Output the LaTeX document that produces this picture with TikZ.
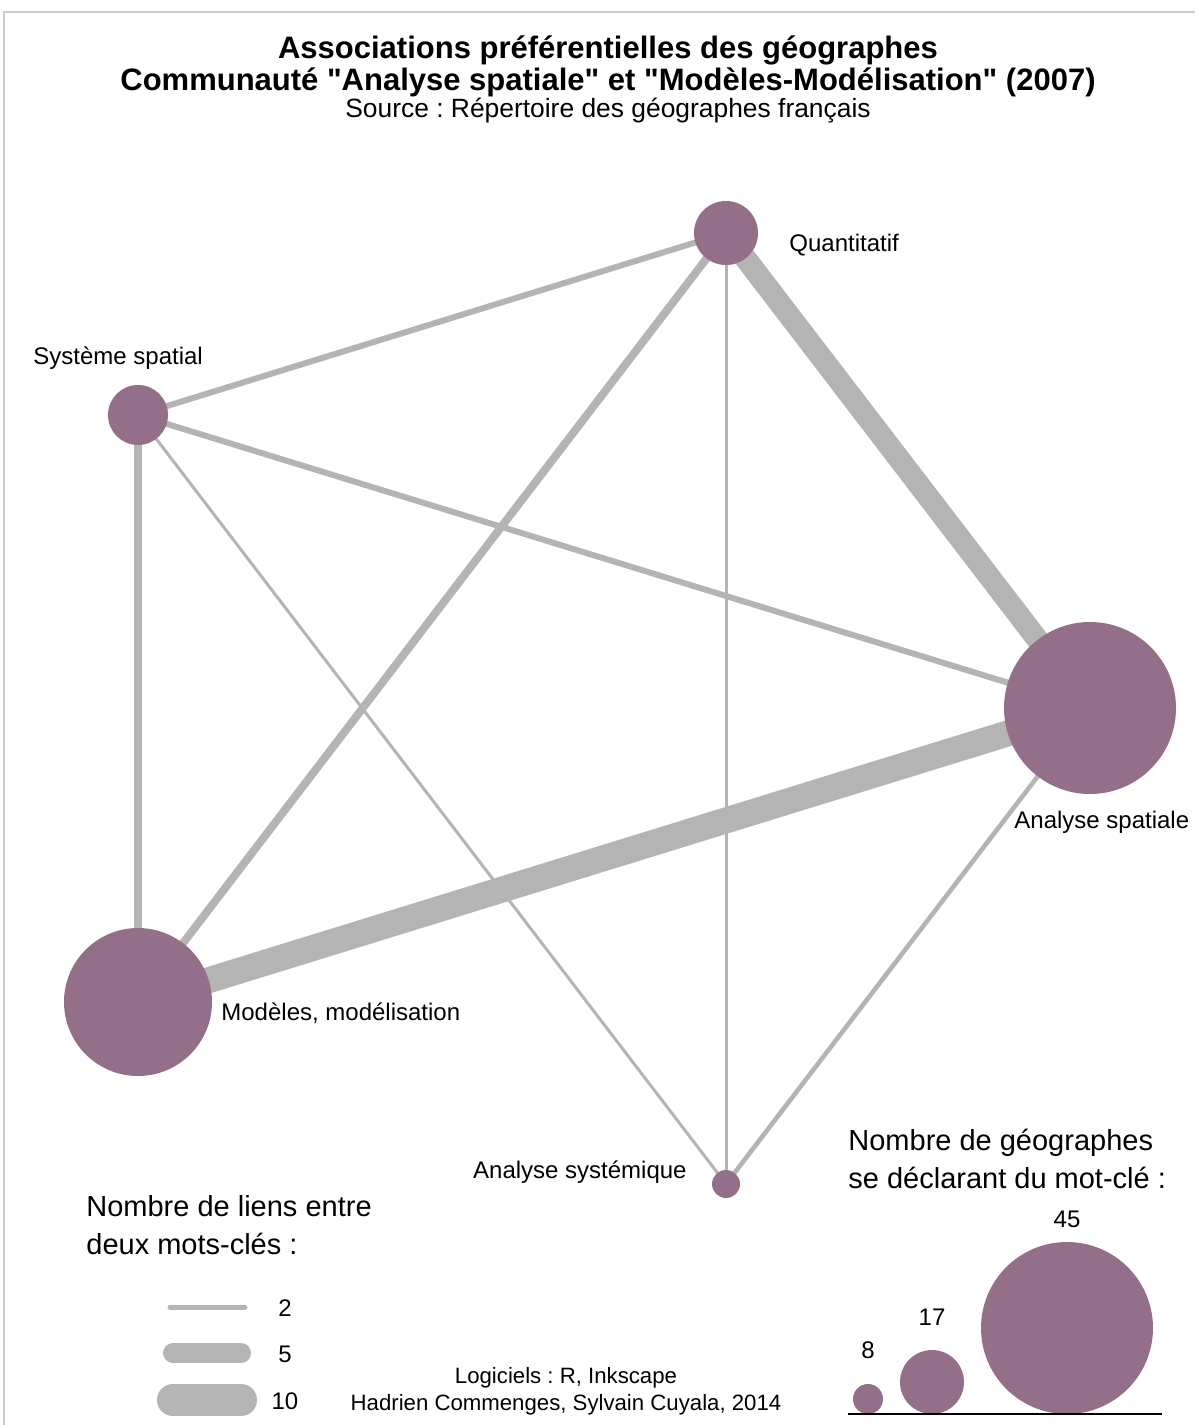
\documentclass[tikz,border=0pt]{standalone}
\usepackage{fontspec}
\setmainfont{Liberation Sans}
\usetikzlibrary{positioning,backgrounds}
\definecolor{motcle}{RGB}{147,111,137}
\definecolor{liengris}{RGB}{180,180,180}
\frenchspacing
\tikzset{%
  % Specifications for style of nodes:
       mot/.style = {circle, fill=motcle, draw=none, inner sep=0pt},
  etiquette/.style = {inner sep=0pt, font=\fontsize{12}{14}\selectfont},
     titre/.style = {inner sep=0pt, font=\fontsize{15.5}{18}\selectfont\bfseries},
    legende/.style = {inner sep=0pt, align=left,
                      font=\fontsize{14.5}{19}\selectfont},
  % Specifications for style of links:
      lien/.style = {draw=liengris},
}

\begin{document}
\begin{tikzpicture}[x=0.5pt, y=-0.5pt]
\useasboundingbox (0,0) rectangle (1195,1425);
\draw[black!20, line width=0.8pt] (4,1425) -- (4,12) -- (1195,12);

\node (T1) [titre] at (608,50) {Associations préférentielles des géographes};
\node (T2) [titre] at (608,82) {Communauté \textquotedbl Analyse spatiale\textquotedbl{} et \textquotedbl Modèles-Modélisation\textquotedbl{} (2007)};
\node (T3) [inner sep=0pt, font=\fontsize{13.2}{15}\selectfont] at (608,111)
      {Source : Répertoire des géographes français};

% keywords
\node (Q)    [mot, minimum size=32pt] at (726,233)  {};
\node (SS)   [mot, minimum size=30pt] at (138,415)  {};
\node (AS)   [mot, minimum size=86pt] at (1090,708) {};
\node (MM)   [mot, minimum size=74pt] at (138,1002) {};
\node (ASys) [mot, minimum size=14pt] at (726,1184) {};

\node (lQ)    [etiquette, anchor=west] at (789,245)  {Quantitatif};
\node (lSS)   [etiquette, anchor=west] at (33,358)   {Système spatial};
\node (lAS)   [etiquette, anchor=west] at (1014,822) {Analyse spatiale};
\node (lMM)   [etiquette, anchor=west] at (221,1013) {Modèles, modélisation};
\node (lASys) [etiquette, anchor=east] at (687,1172) {Analyse systémique};

\begin{scope}[on background layer]
\draw[lien, line width=3pt]   (SS.center) -- (Q.center);
\draw[lien, line width=11pt]  (Q.center) -- (AS.center);
\draw[lien, line width=4pt]   (Q.center) -- (MM.center);
\draw[lien, line width=1.5pt] (Q.center) -- (ASys.center);
\draw[lien, line width=3pt]   (SS.center) -- (AS.center);
\draw[lien, line width=4pt]   (SS.center) -- (MM.center);
\draw[lien, line width=1.5pt] (SS.center) -- (ASys.center);
\draw[lien, line width=13pt]  (AS.center) -- (MM.center);
\draw[lien, line width=2.3pt] (AS.center) -- (ASys.center);
\end{scope}

% legend: links
\node (LL) [legende, anchor=north west] at (86,1195) {Nombre de liens entre\\deux mots-clés :};
\coordinate (L2a)  at (170,1307); \coordinate (L2b)  at (245,1307);
\coordinate (L5a)  at (173,1353); \coordinate (L5b)  at (241,1353);
\coordinate (L10a) at (173,1400); \coordinate (L10b) at (241,1400);
\draw[lien, line width=2.5pt, line cap=round] (L2a) -- (L2b);
\draw[lien, line width=10pt, line cap=round]  (L5a) -- (L5b);
\draw[lien, line width=16pt, line cap=round]  (L10a) -- (L10b);
\node (n2)  [etiquette] at (285,1308) {2};
\node (n5)  [etiquette] at (285,1354) {5};
\node (n10) [etiquette] at (285,1401) {10};

% legend: keywords
\node (LG) [legende, anchor=north west] at (848,1129) {Nombre de géographes\\se déclarant du mot-clé :};
\node (b8)  [mot, minimum size=15pt] at (868,1399)  {};
\node (b17) [mot, minimum size=32pt] at (932,1382)  {};
\node (b45) [mot, minimum size=86pt] at (1067,1328) {};
\node (v8)  [etiquette] at (868,1350)  {8};
\node (v17) [etiquette] at (932,1317)  {17};
\node (v45) [etiquette] at (1067,1219) {45};
\coordinate (baseA) at (848,1414); \coordinate (baseB) at (1162,1414);
\draw[line width=1pt] (baseA) -- (baseB);

% credits
\node (C1) [inner sep=0pt, font=\fontsize{11.1}{13}\selectfont] at (566,1378) {Logiciels : R, Inkscape};
\node (C2) [inner sep=0pt, font=\fontsize{11.1}{13}\selectfont] at (566,1405) {Hadrien Commenges, Sylvain Cuyala, 2014};
  \end{tikzpicture}
\end{document}
